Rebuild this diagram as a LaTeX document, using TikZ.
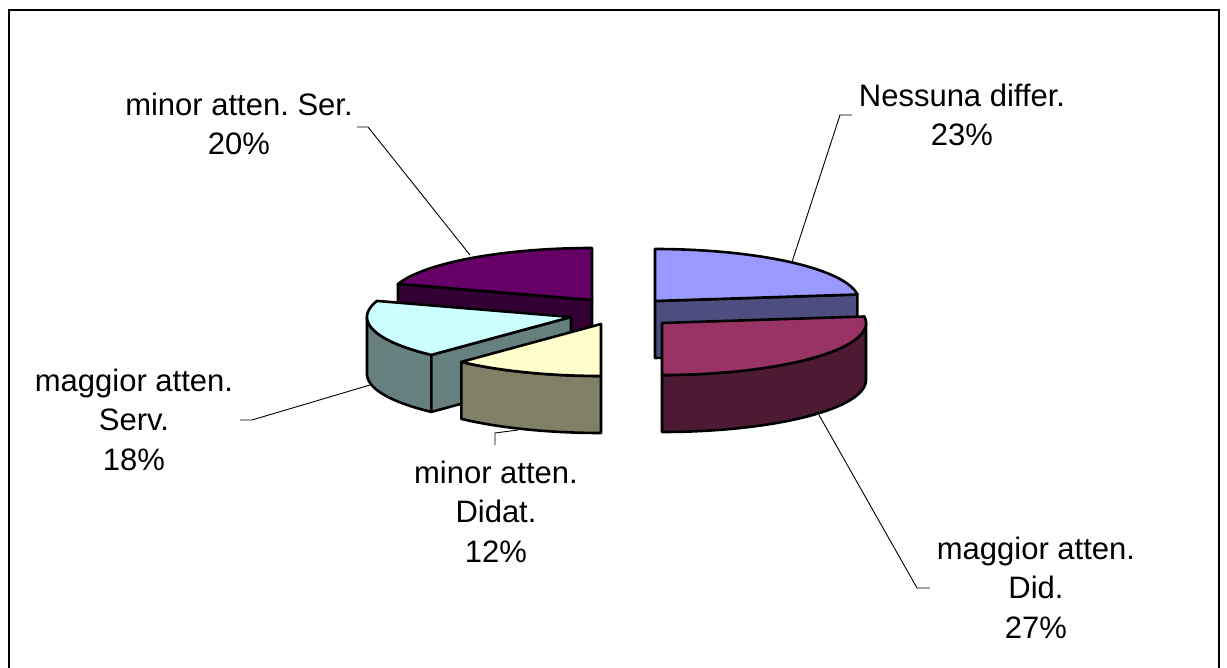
\documentclass[tikz,border=0pt]{standalone}
\usepackage{fontspec}
\setmainfont{Liberation Sans}
\frenchspacing
\definecolor{btp}{HTML}{9999FF}
\definecolor{bsd}{HTML}{4D4D80}
\definecolor{mtp}{HTML}{993366}
\definecolor{msd}{HTML}{4D1A33}
\definecolor{ytp}{HTML}{FFFFCC}
\definecolor{ysd}{HTML}{808066}
\definecolor{ctp}{HTML}{CCFFFF}
\definecolor{csd}{HTML}{668080}
\definecolor{ptp}{HTML}{660066}
\definecolor{psd}{HTML}{330033}
\def\pra{204}
\def\prb{52}
\def\pdepth{57}
\newcommand\pietop[5]{%
 \filldraw[edge,fill=#5] (#1,#2) -- plot[domain=#3:#4,samples=80] ({#1+\pra*cos(\x)},{#2-\prb*sin(\x)}) -- cycle;}
\newcommand\pieside[5]{%
 \filldraw[edge,fill=#5] plot[domain=#3:#4,samples=80] ({#1+\pra*cos(\x)},{#2-\prb*sin(\x)}) -- plot[domain=#4:#3,samples=80] ({#1+\pra*cos(\x)},{#2+\pdepth-\prb*sin(\x)}) -- cycle;}
\newcommand\pierad[4]{%
 \filldraw[edge,fill=#4] (#1,#2) -- ({#1+\pra*cos(#3)},{#2-\prb*sin(#3)}) -- ({#1+\pra*cos(#3)},{#2+\pdepth-\prb*sin(#3)}) -- (#1,{#2+\pdepth}) -- cycle;}
\begin{document}
\begin{tikzpicture}[x=1pt,y=-1pt,
  edge/.style={draw=black,line width=2.6pt,line join=round},
  leader/.style={draw=black,line width=0.9pt},
  lbl/.style={font=\fontsize{31}{39.5}\selectfont,align=center,inner sep=0pt,anchor=base}]
\useasboundingbox (0,0) rectangle (1227,668);
\fill[white] (0,0) rectangle (1227,668);
\draw[line width=2.5pt] (9,675) -- (9,10) -- (1219,10) -- (1219,675);
% slices, back to front
\pierad{592}{300}{162}{psd}
\pietop{592}{300}{90}{162}{ptp}
\pierad{655}{301}{7.2}{bsd}
\pietop{655}{301}{7.2}{90}{btp}
\pieside{571}{317}{180}{226.8}{csd}
\pierad{571}{317}{226.8}{csd}
\pietop{571}{317}{162}{226.8}{ctp}
\pieside{601}{324}{226.8}{270}{ysd}
\pietop{601}{324}{226.8}{270}{ytp}
\pieside{662}{323}{270}{360}{msd}
\pietop{662}{323}{-90}{7.2}{mtp}
% labels (anchored at the baseline of the last line)
\node[lbl] (nes) at (962,146) {Nessuna differ.\\23\%};
\node[lbl] (mid) at (1036,638) {maggior atten.\\Did.\\27\%};
\node[lbl] (mdi) at (496,562) {minor atten.\\Didat.\\12\%};
\node[lbl] (mse) at (134,470) {maggior atten.\\Serv.\\18\%};
\node[lbl] (mis) at (239,155) {minor atten. Ser.\\20\%};
% leader lines
\coordinate (nesA) at (852,115);
\coordinate (nesB) at (840,115);
\coordinate (nesP) at (792,262);
\coordinate (misA) at (357,127);
\coordinate (misB) at (368,127);
\coordinate (misP) at (470,255);
\coordinate (mseA) at (240,420);
\coordinate (mseB) at (252,420);
\coordinate (mseP) at (370,385);
\coordinate (mdiA) at (495,445);
\coordinate (mdiB) at (495,433);
\coordinate (mdiP) at (518,430);
\coordinate (midA) at (930,588);
\coordinate (midB) at (917,588);
\coordinate (midP) at (819,415);
\draw[leader] (nesA) -- (nesB) -- (nesP);
\draw[leader] (misA) -- (misB) -- (misP);
\draw[leader] (mseA) -- (mseB) -- (mseP);
\draw[leader] (mdiA) -- (mdiB) -- (mdiP);
\draw[leader] (midA) -- (midB) -- (midP);
\end{tikzpicture}
\end{document}
